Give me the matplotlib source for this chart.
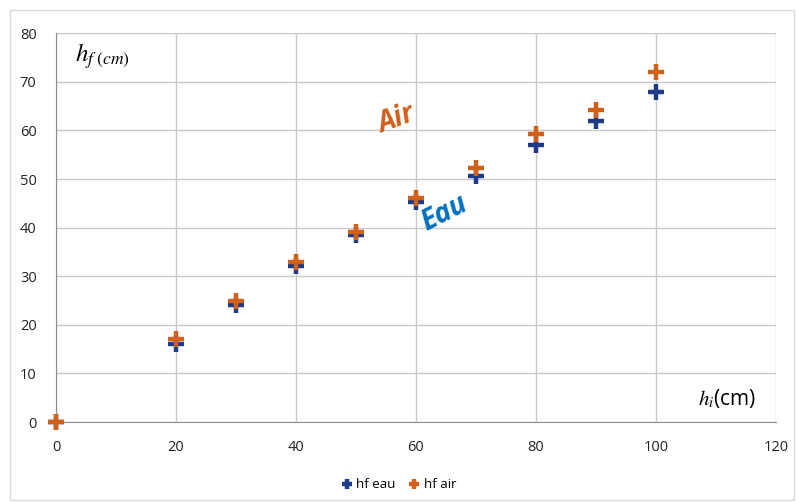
import matplotlib
matplotlib.use("Agg")
import matplotlib.pyplot as plt
from matplotlib.patches import Rectangle

# donnees
hi = [0, 20, 30, 40, 50, 60, 70, 80, 90, 100]
hf_eau = [0, 16, 24, 32, 38.5, 45.2, 50.6, 57, 62, 68]
hf_air = [0, 17, 25, 33, 39, 46, 52.2, 59.3, 64.3, 72]

x_ticks = [0, 20, 40, 60, 80, 100, 120]
y_ticks = [0, 10, 20, 30, 40, 50, 60, 70, 80]

c_eau = "#1F3C88"
c_air = "#D0601A"

plt.rcParams["font.family"] = ["Open Sans", "DejaVu Sans"]
plt.rcParams["mathtext.fontset"] = "stix"

fig = plt.figure(figsize=(7.98, 5.03), dpi=100)
fig.patches.append(Rectangle((0.013, 0.006), 0.982, 0.975, transform=fig.transFigure,
                             fill=False, edgecolor="#D9D9D9", lw=1))

ax = fig.add_axes([0.0702, 0.161, 0.902, 0.773])
ax.plot(hi, hf_eau, linestyle="none", marker="+", ms=11, mew=3.2, color=c_eau,
        label="hf eau", clip_on=False, zorder=3)
ax.plot(hi, hf_air, linestyle="none", marker="+", ms=11, mew=3.2, color=c_air,
        label="hf air", clip_on=False, zorder=4)

ax.set_xlim(0, 120)
ax.set_ylim(0, 80)
ax.set_xticks(x_ticks)
ax.set_yticks(y_ticks)
ax.grid(True, color="#C8C8C8", lw=1)
ax.set_axisbelow(True)
for s in ["top", "right"]:
    ax.spines[s].set_visible(False)
for s in ["left", "bottom"]:
    ax.spines[s].set_color("#8C8C8C")
ax.tick_params(length=0, labelsize=10.5, colors="#222222")
ax.tick_params(axis="x", pad=13)
ax.tick_params(axis="y", pad=14)

ax.text(0.026, 0.94, r"$h_{f\ (cm)}$", transform=ax.transAxes, fontsize=18,
        ha="left", va="center")
ax.text(0.892, 0.06, r"$h_i$(cm)", transform=ax.transAxes, fontsize=15,
        ha="left", va="center")

ax.text(56.7, 62.2, "Air", color="#D0601A", fontsize=20, fontweight="bold",
        fontstyle="italic", rotation=20, ha="center", va="center")
ax.text(64.7, 43, "Eau", color="#0070C0", fontsize=20, fontweight="bold",
        fontstyle="italic", rotation=27, ha="center", va="center")

fig.legend(loc="lower center", bbox_to_anchor=(0.5, 0.0), ncol=2, frameon=False,
           fontsize=9.5, handlelength=0.8, handletextpad=0.3, columnspacing=1.0,
           markerscale=0.7)

fig.savefig("out.png", dpi=100)
